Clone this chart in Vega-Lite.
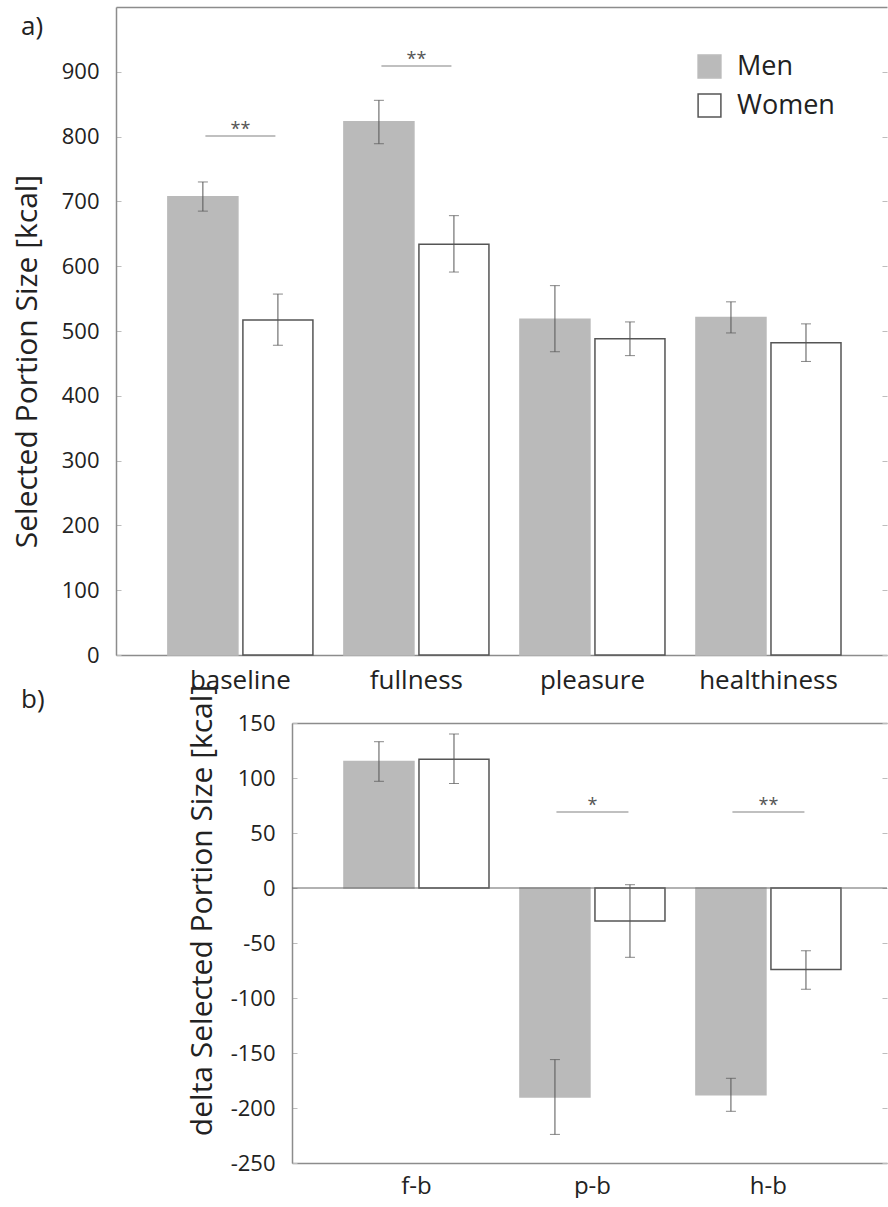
{
  "$schema": "https://vega.github.io/schema/vega-lite/v6.json",
  "padding": {"left": 12, "top": 7, "right": 0, "bottom": 0},
  "background": "white",
  "spacing": -9,
  "config": {
    "font": "Open Sans",
    "view": {"stroke": null},
    "axis": {"grid": false, "domainColor": "#8c8c8c", "domainWidth": 1.5, "tickColor": "#bdbdbd", "labelColor": "#222222", "titleColor": "#222222", "titleFontWeight": "normal", "labelFont": "Open Sans", "titleFont": "Open Sans"},
    "title": {"font": "Open Sans", "fontWeight": "normal", "color": "#222222", "fontSize": 26}
  },
  "datasets": {
    "a": [
      {"condition": "baseline", "sex": "Men", "value": 707, "lo": 685, "hi": 730},
      {"condition": "baseline", "sex": "Women", "value": 517, "lo": 478, "hi": 557},
      {"condition": "fullness", "sex": "Men", "value": 823, "lo": 789, "hi": 856},
      {"condition": "fullness", "sex": "Women", "value": 634, "lo": 591, "hi": 678},
      {"condition": "pleasure", "sex": "Men", "value": 518, "lo": 468, "hi": 570},
      {"condition": "pleasure", "sex": "Women", "value": 488, "lo": 462, "hi": 514},
      {"condition": "healthiness", "sex": "Men", "value": 521, "lo": 497, "hi": 545},
      {"condition": "healthiness", "sex": "Women", "value": 482, "lo": 453, "hi": 511}
    ],
    "asig": [
      {"condition": "baseline", "y": 801, "label": "**"},
      {"condition": "fullness", "y": 909, "label": "**"}
    ],
    "b": [
      {"condition": "f-b", "sex": "Men", "value": 115, "lo": 97, "hi": 133},
      {"condition": "f-b", "sex": "Women", "value": 117, "lo": 95, "hi": 140},
      {"condition": "p-b", "sex": "Men", "value": -190, "lo": -224, "hi": -156},
      {"condition": "p-b", "sex": "Women", "value": -30, "lo": -63, "hi": 3},
      {"condition": "h-b", "sex": "Men", "value": -188, "lo": -203, "hi": -173},
      {"condition": "h-b", "sex": "Women", "value": -74, "lo": -92, "hi": -57}
    ],
    "bsig": [
      {"condition": "p-b", "y": 69, "label": "*"},
      {"condition": "h-b", "y": 69, "label": "**"}
    ]
  },
  "vconcat": [
    {
      "width": 771,
      "height": 648,
      "title": {"text": "a)", "anchor": "start", "frame": "group", "dx": -95, "dy": 33, "offset": 0},
      "resolve": {"axis": {"x": "independent", "y": "independent"}},
      "layer": [
        {
          "data": {"name": "a"},
          "mark": {"type": "bar", "strokeWidth": 1.5},
          "encoding": {
            "x": {"field": "condition", "type": "nominal", "sort": null,
              "scale": {"domain": ["baseline", "fullness", "pleasure", "healthiness"], "paddingInner": 0.176, "paddingOuter": 0.278, "align": 0.53},
              "axis": {"orient": "bottom", "title": null, "labelAngle": 0, "labelFontSize": 26, "ticks": false, "labelPadding": 12}},
            "xOffset": {"field": "sex", "type": "nominal", "scale": {"domain": ["Men", "Women"], "paddingInner": 0.0667, "paddingOuter": 0}},
            "y": {"field": "value", "type": "quantitative", "scale": {"domain": [0, 1000], "nice": false},
              "axis": {"orient": "left", "title": "Selected Portion Size [kcal]", "values": [0, 100, 200, 300, 400, 500, 600, 700, 800, 900],
                "titleFontSize": 30, "titleX": -89, "titleY": 354, "titleAngle": -90, "titleAlign": "center", "titleBaseline": "middle",
                "labelFontSize": 22, "tickSize": -5, "labelPadding": 22}},
            "fill": {"field": "sex", "type": "nominal", "scale": {"domain": ["Men", "Women"], "range": ["#bababa", "#ffffff"]},
              "legend": {"title": null, "orient": "none", "legendX": 580, "legendY": 46, "symbolType": "square", "symbolSize": 520, "labelFontSize": 27, "labelColor": "#222222", "labelOffset": 14, "rowPadding": 10, "padding": 0, "symbolStrokeWidth": 1.5,
                "encode": {"symbols": {"update": {"stroke": [{"test": "datum.value === 'Men'", "value": "#bababa"}, {"value": "#9a9a9a"}]}}}}},
            "stroke": {"field": "sex", "type": "nominal", "scale": {"domain": ["Men", "Women"], "range": ["#bababa", "#555555"]},
              "legend": {"title": null, "orient": "none", "legendX": 580, "legendY": 46, "symbolType": "square", "symbolSize": 520, "labelFontSize": 27, "labelColor": "#222222", "labelOffset": 14, "rowPadding": 10, "padding": 0, "symbolStrokeWidth": 1.5,
                "encode": {"symbols": {"update": {"stroke": [{"test": "datum.value === 'Men'", "value": "#bababa"}, {"value": "#9a9a9a"}]}}}}}
          }
        },
        {
          "data": {"name": "a"},
          "mark": {"type": "rule", "color": "#555555", "strokeWidth": 1},
          "encoding": {
            "x": {"field": "condition", "type": "nominal", "sort": null, "axis": null},
            "xOffset": {"field": "sex", "type": "nominal"},
            "y": {"field": "lo", "type": "quantitative", "axis": null},
            "y2": {"field": "hi"}
          }
        },
        {
          "data": {"name": "a"},
          "mark": {"type": "tick", "color": "#555555", "size": 10, "thickness": 1},
          "encoding": {
            "x": {"field": "condition", "type": "nominal", "sort": null, "axis": null},
            "xOffset": {"field": "sex", "type": "nominal"},
            "y": {"field": "lo", "type": "quantitative", "axis": null}
          }
        },
        {
          "data": {"name": "a"},
          "mark": {"type": "tick", "color": "#555555", "size": 10, "thickness": 1},
          "encoding": {
            "x": {"field": "condition", "type": "nominal", "sort": null, "axis": null},
            "xOffset": {"field": "sex", "type": "nominal"},
            "y": {"field": "hi", "type": "quantitative",
              "axis": {"orient": "right", "title": null, "labels": false, "domain": false, "tickSize": -5, "values": [0, 100, 200, 300, 400, 500, 600, 700, 800, 900]}}
          }
        },
        {
          "data": {"name": "asig"},
          "mark": {"type": "tick", "color": "#888888", "size": 70, "thickness": 1.5},
          "encoding": {
            "x": {"field": "condition", "type": "nominal", "sort": null,
              "axis": {"orient": "top", "title": null, "labels": false, "ticks": false, "domain": true}},
            "y": {"field": "y", "type": "quantitative", "axis": null}
          }
        },
        {
          "data": {"name": "asig"},
          "mark": {"type": "text", "color": "#555555", "fontSize": 18, "baseline": "alphabetic", "dy": -1},
          "encoding": {
            "x": {"field": "condition", "type": "nominal", "sort": null, "axis": null},
            "y": {"field": "y", "type": "quantitative", "axis": null},
            "text": {"field": "label"}
          }
        }
      ]
    },
    {
      "spacing": 0,
      "hconcat": [
        {
          "width": 70,
          "height": 440,
          "title": {"text": "b)", "anchor": "start", "frame": "group", "dx": -95, "dy": -10, "offset": 0},
          "data": {"values": [{}]},
          "mark": {"type": "point", "opacity": 0}
        },
        {
          "width": 595,
          "height": 440,
          "resolve": {"axis": {"x": "independent", "y": "independent"}},
          "layer": [
            {
              "data": {"name": "b"},
              "mark": {"type": "bar", "strokeWidth": 1.5},
              "encoding": {
                "x": {"field": "condition", "type": "nominal", "sort": null,
                  "scale": {"domain": ["f-b", "p-b", "h-b"], "paddingInner": 0.176, "paddingOuter": 0.2785, "align": 0.53},
                  "axis": {"orient": "bottom", "title": null, "labelAngle": 0, "labelFontSize": 24, "ticks": false, "labelPadding": 11}},
                "xOffset": {"field": "sex", "type": "nominal", "scale": {"domain": ["Men", "Women"], "paddingInner": 0.0667, "paddingOuter": 0}},
                "y": {"field": "value", "type": "quantitative", "scale": {"domain": [-250, 150], "nice": false},
                  "axis": {"orient": "left", "title": "delta Selected Portion Size [kcal]", "values": [-250, -200, -150, -100, -50, 0, 50, 100, 150],
                    "labelExpr": "'' + datum.value",
                    "titleFontSize": 30, "titleX": -90, "titleY": 187, "titleAngle": -90, "titleAlign": "center", "titleBaseline": "middle",
                    "labelFontSize": 22, "tickSize": -5, "labelPadding": 22}},
                "fill": {"field": "sex", "type": "nominal", "scale": {"domain": ["Men", "Women"], "range": ["#bababa", "#ffffff"]}, "legend": null},
                "stroke": {"field": "sex", "type": "nominal", "scale": {"domain": ["Men", "Women"], "range": ["#bababa", "#555555"]}, "legend": null}
              }
            },
            {
              "data": {"values": [{}]},
              "mark": {"type": "rule", "color": "#666666", "strokeWidth": 1.2},
              "encoding": {"y": {"datum": 0, "type": "quantitative", "axis": null}}
            },
            {
              "data": {"name": "b"},
              "mark": {"type": "rule", "color": "#555555", "strokeWidth": 1},
              "encoding": {
                "x": {"field": "condition", "type": "nominal", "sort": null, "axis": null},
                "xOffset": {"field": "sex", "type": "nominal"},
                "y": {"field": "lo", "type": "quantitative", "axis": null},
                "y2": {"field": "hi"}
              }
            },
            {
              "data": {"name": "b"},
              "mark": {"type": "tick", "color": "#555555", "size": 10, "thickness": 1},
              "encoding": {
                "x": {"field": "condition", "type": "nominal", "sort": null, "axis": null},
                "xOffset": {"field": "sex", "type": "nominal"},
                "y": {"field": "lo", "type": "quantitative", "axis": null}
              }
            },
            {
              "data": {"name": "b"},
              "mark": {"type": "tick", "color": "#555555", "size": 10, "thickness": 1},
              "encoding": {
                "x": {"field": "condition", "type": "nominal", "sort": null, "axis": null},
                "xOffset": {"field": "sex", "type": "nominal"},
                "y": {"field": "hi", "type": "quantitative",
                  "axis": {"orient": "right", "title": null, "labels": false, "domain": false, "tickSize": -5, "values": [-250, -200, -150, -100, -50, 0, 50, 100, 150]}}
              }
            },
            {
              "data": {"name": "bsig"},
              "mark": {"type": "tick", "color": "#888888", "size": 72, "thickness": 1.5},
              "encoding": {
                "x": {"field": "condition", "type": "nominal", "sort": null,
                  "axis": {"orient": "top", "title": null, "labels": false, "ticks": false, "domain": true}},
                "y": {"field": "y", "type": "quantitative", "axis": null}
              }
            },
            {
              "data": {"name": "bsig"},
              "mark": {"type": "text", "color": "#555555", "fontSize": 18, "baseline": "alphabetic", "dy": -1},
              "encoding": {
                "x": {"field": "condition", "type": "nominal", "sort": null, "axis": null},
                "y": {"field": "y", "type": "quantitative", "axis": null},
                "text": {"field": "label"}
              }
            }
          ]
        }
      ]
    }
  ]
}
